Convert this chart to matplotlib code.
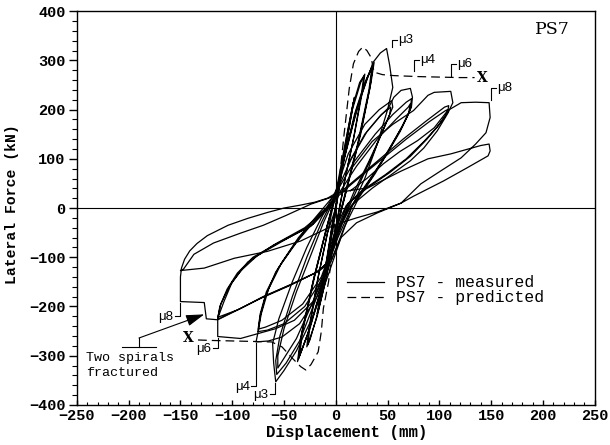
import matplotlib
matplotlib.use("Agg")
import matplotlib.pyplot as plt
from matplotlib.ticker import MultipleLocator

# measured hysteresis, one list pair per ductility level
mu1_x = [0, 5, 10, 15, 18, 16, 10, 4, -2, -8, -13, -18, -16, -10, -4,
         2, 8, 13, 17, 15, 9, 3, -3, -9, -14, -17, -15, -9, -3, 0]
mu1_y = [0, 70, 140, 195, 225, 200, 130, 50, -30, -110, -170, -215, -190, -120, -40,
         30, 110, 170, 215, 190, 120, 40, -40, -120, -175, -210, -180, -110, -30, 0]

mu15_x = [0, 8, 16, 24, 28, 26, 18, 9, 0, -9, -18, -25, -28, -26, -18, -9, 0,
          8, 16, 23, 27, 25, 17, 8, -1, -10, -19, -25, -27, -25, -17, -8, 0]
mu15_y = [0, 110, 200, 255, 272, 240, 150, 60, -40, -140, -220, -265, -282, -245, -150, -60, 30,
          120, 205, 255, 268, 235, 140, 50, -50, -150, -225, -268, -278, -240, -140, -50, 0]

mu2_x = [0, 8, 18, 28, 37, 34, 24, 12, 0, -12, -25, -37, -34, -22, -10, 0,
         9, 20, 30, 36, 33, 22, 10, -2, -14, -27, -36, -33, -21, -9, 0,
         10, 21, 30, 35, 32, 21, 9, -3, -15, -27, -35, -32, -20, -8, 0]
mu2_y = [0, 100, 190, 255, 296, 255, 150, 50, -50, -150, -245, -312, -265, -150, -50, 30,
         110, 200, 262, 292, 245, 135, 35, -65, -165, -255, -306, -255, -140, -40, 30,
         115, 205, 262, 288, 240, 130, 30, -70, -170, -255, -300, -250, -135, -35, 25]

mu3_x = [0, 12, 25, 36, 43, 49, 52, 55, 50, 40, 28, 15, 5, -8, -22, -38, -50, -58, -60, -61,
         -55, -42, -28, -14, 0,
         12, 28, 42, 54, 55, 48, 36, 22, 8, -5, -20, -35, -48, -57, -58, -54, -42, -28, -14, 0,
         15, 30, 44, 53, 52, 44, 32, 18, 5, -8, -22, -38, -50, -56, -56, -50, -38, -24, -12, 0]
mu3_y = [30, 140, 230, 296, 315, 324, 290, 245, 200, 130, 60, 0, -60, -140, -220, -290, -330, -353, -315, -275,
         -225, -150, -80, -20, 35,
         110, 170, 200, 218, 205, 170, 110, 45, -20, -100, -190, -270, -315, -338, -310, -260, -180, -100, -30, 30,
         100, 155, 190, 205, 190, 150, 95, 35, -30, -110, -190, -265, -305, -325, -300, -245, -170, -95, -30, 25]

mu4_x = [12, 28, 42, 51, 56, 63, 72, 74, 73, 65, 52, 38, 22, 8, -5, -18, -35, -52, -65, -77,
         -75, -72, -65, -52, -36, -18, 0,
         18, 38, 55, 68, 73, 72, 64, 50, 34, 16, 2, -12, -30, -50, -66, -75, -73, -68, -58, -42, -24, 0,
         20, 40, 58, 70, 72, 70, 62, 48, 30, 12, 0, -14, -32, -52, -68, -75, -73, -67, -55, -38, -20, 0]
mu4_y = [90, 150, 185, 204, 225, 239, 243, 225, 205, 170, 120, 70, 20, -40, -110, -180, -235, -262, -270, -272,
         -251, -215, -165, -110, -60, -15, 30,
         95, 150, 190, 215, 222, 200, 165, 115, 60, 5, -60, -140, -200, -235, -248, -251, -220, -180, -130, -80, -30, 20,
         85, 140, 180, 205, 212, 190, 155, 105, 50, -5, -60, -140, -195, -228, -242, -246, -215, -170, -120, -70, -25, 20]

mu6_x = [15, 35, 55, 75, 89, 95, 111, 113, 108, 98, 85, 72, 55, 35, 15, 3, -8, -22, -40, -58,
         -75, -92, -114, -114, -108, -100, -85, -60, -30, -10, 0,
         14, 40, 65, 88, 105, 109, 108, 100, 88, 72, 52, 30, 12, 2, -8, -17, -43, -70, -92, -114,
         -112, -105, -95, -80, -56, -24, 0,
         16, 42, 68, 90, 106, 108, 106, 98, 85, 68, 48, 25, 10, 0, -10, -20, -45, -72, -95, -114,
         -111, -103, -92, -76, -52, -22, 0]
mu6_y = [80, 135, 170, 198, 229, 235, 237, 214, 192, 157, 122, 96, 70, 40, 5, -40, -120, -190, -228, -245,
         -255, -265, -261, -224, -190, -150, -110, -75, -40, -5, 25,
         49, 95, 140, 178, 205, 208, 195, 170, 140, 105, 72, 40, 10, -40, -110, -129, -155, -180, -204, -226,
         -200, -165, -132, -100, -71, -37, 20,
         50, 95, 140, 175, 198, 200, 188, 165, 135, 100, 68, 35, 5, -40, -115, -132, -158, -183, -207, -222,
         -195, -160, -128, -97, -68, -33, 15]

mu8_x = [14, 30, 46, 62, 79, 95, 108, 121, 135, 148, 149, 145, 135, 121, 101, 82, 63, 40, 20, 5,
         -5, -17, -43, -70, -92, -114, -125, -127, -150, -150, -149, -146, -141, -134, -124, -104,
         -85, -66, -50, -34, -20, -8, 0,
         15, 31, 63, 89, 111, 140, 148, 149, 147, 127, 104, 75, 63, 40, 20, 5, -8, -34, -66, -98,
         -127, -150, -147, -137, -118, -92, -70, -48, -24, 0]
mu8_y = [35, 60, 90, 115, 137, 163, 198, 214, 215, 214, 184, 153, 130, 102, 75, 49, 10, -10, -30, -60,
         -110, -129, -155, -180, -204, -227, -225, -192, -190, -140, -122, -104, -87, -72, -56, -35,
         -21, -9, 0, 6, 12, 20, 30,
         36, 41, 75, 100, 110, 127, 130, 116, 106, 82, 55, 24, 10, -8, -20, -30, -41, -67, -88, -102,
         -122, -127, -124, -94, -71, -51, -35, -15, 8, 25]

# predicted response
pred_x = [-133, -120, -100, -80, -62, -52, -42, -34, -29, -24, -17, -14, -12, -7, -3, 0,
          4, 8, 13, 17, 22, 26, 30, 34, 37, 45, 56, 80, 100, 120, 134]
pred_y = [-268, -269, -270, -271, -272, -282, -305, -322, -329, -318, -292, -251, -204, -150, -80, 0,
          70, 150, 243, 293, 318, 327, 320, 306, 276, 271, 269, 267, 266, 265, 265]

mono = "Liberation Mono"
plt.rcParams["font.family"] = [mono, "DejaVu Sans"]

fig = plt.figure(figsize=(6.1, 4.45), dpi=100)
ax = fig.add_axes([0.126, 0.090, 0.849, 0.885])

measured = [(mu1_x, mu1_y), (mu15_x, mu15_y), (mu2_x, mu2_y), (mu3_x, mu3_y),
            (mu4_x, mu4_y), (mu6_x, mu6_y), (mu8_x, mu8_y)]
for i, (cx, cy) in enumerate(measured):
    ax.plot(cx, cy, color="black", lw=0.9, label="PS7 - measured" if i == 0 else None)
ax.plot(pred_x, pred_y, color="black", lw=0.9, dashes=(7, 4), label="PS7 - predicted")

ax.axhline(0, color="black", lw=0.8)
ax.axvline(0, color="black", lw=0.8)

ax.set_xlim(-250, 250)
ax.set_ylim(-400, 400)
ax.xaxis.set_major_locator(MultipleLocator(50))
ax.xaxis.set_minor_locator(MultipleLocator(10))
ax.yaxis.set_major_locator(MultipleLocator(100))
ax.yaxis.set_minor_locator(MultipleLocator(20))
ax.tick_params(axis="x", which="major", direction="in", length=3.6, width=1, pad=3)
ax.tick_params(axis="x", which="minor", direction="in", length=2.4, width=0.8)
ax.tick_params(axis="y", which="major", direction="out", length=6, width=1, pad=2)
ax.tick_params(axis="y", which="minor", direction="out", length=3.6, width=0.8)
for lab in ax.get_xticklabels() + ax.get_yticklabels():
    lab.set_fontsize(11)
    lab.set_fontweight("bold")
for sp in ax.spines.values():
    sp.set_linewidth(1.0)

ax.set_xlabel("Displacement (mm)", fontsize=11.3, fontweight="bold")
ax.set_ylabel("Lateral Force (kN)", fontsize=10.6, fontweight="bold")
ax.xaxis.set_label_coords(0.521, -0.050)
ax.yaxis.set_label_coords(-0.112, 0.51)

ax.text(226, 363, "PS7", ha="right", va="center", fontsize=12.5, family="DejaVu Serif")

# ductility markers, positive side
for xb, yb, yt, lab in [(54, 327, 342, "μ3"), (75.6, 279, 301, "μ4"),
                        (111, 269, 293, "μ6"), (149.6, 220, 244, "μ8")]:
    ax.plot([xb, xb, xb + 5], [yb, yt, yt], color="black", lw=0.8)
    ax.text(xb + 6, yt, lab, ha="left", va="center", fontsize=9.5, family="Liberation Sans")
# negative side
for xb, yt, yb, lab in [(-150.6, -192, -220, "μ8"), (-114, -264, -285, "μ6"),
                        (-77, -274, -362, "μ4"), (-59, -356, -378, "μ3")]:
    ax.plot([xb - 5, xb, xb], [yb, yb, yt], color="black", lw=0.8)
    ax.text(xb - 6, yb - 2, lab, ha="right", va="center", fontsize=9.5, family="Liberation Sans")

ax.text(141.5, 265, "X", ha="center", va="center", fontsize=10, fontweight="bold", family="DejaVu Serif")
ax.text(-142, -265, "X", ha="center", va="center", fontsize=10, fontweight="bold", family="DejaVu Serif")

# note on the spiral fracture
ax.plot([-206, -174], [-283, -283], color="black", lw=0.8)
ax.annotate("", xy=(-127, -216), xytext=(-190, -264),
            arrowprops=dict(arrowstyle="-|>,head_length=0.8,head_width=0.25", color="black",
                            lw=0.8, shrinkA=0, shrinkB=0, mutation_scale=14))
ax.plot([-190, -190], [-283, -264], color="black", lw=0.8)
ax.text(-241, -305, "Two spirals", ha="left", va="center", fontsize=9.6)
ax.text(-241, -336, "fractured", ha="left", va="center", fontsize=9.6)

ax.legend(loc="upper left", bbox_to_anchor=(0.505, 0.35), frameon=False, fontsize=11.8,
          handlelength=2.3, handletextpad=0.7, labelspacing=0.0, borderpad=0)

fig.savefig("out.png", dpi=100)
